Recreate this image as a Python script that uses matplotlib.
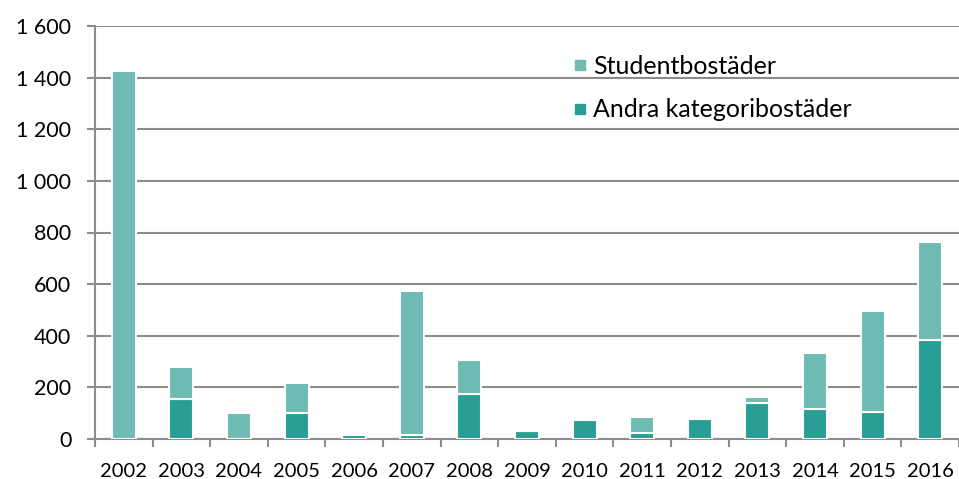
import matplotlib
matplotlib.use("Agg")
import matplotlib.pyplot as plt
from matplotlib.lines import Line2D
import numpy as np

plt.rcParams["font.family"] = ["Lato", "DejaVu Sans"]

years = ["2002", "2003", "2004", "2005", "2006", "2007", "2008", "2009",
         "2010", "2011", "2012", "2013", "2014", "2015", "2016"]
# dark segment (bottom) and total bar height
andra = [0, 155, 0, 100, 17, 15, 173, 32, 75, 23, 77, 139, 116, 106, 384]
total = [1425, 280, 100, 218, 17, 574, 305, 32, 75, 84, 77, 161, 335, 495, 763]
student = [t - a for t, a in zip(total, andra)]

yticks = [0, 200, 400, 600, 800, 1000, 1200, 1400, 1600]
ytick_labels = ["0", "200", "400", "600", "800", "1 000", "1 200", "1 400", "1 600"]

light = "#6FBBB4"
dark = "#289E94"
grey = "#8C8C8C"

fig = plt.figure(figsize=(9.59, 4.79), dpi=100)
ax = fig.add_axes([95 / 959, 40 / 479, 864 / 959, 413 / 479])

x = np.arange(len(years))
w = 0.42
ax.bar(x, andra, w, color=dark, edgecolor="white", linewidth=1.5, zorder=3)
ax.bar(x, student, w, bottom=andra, color=light, edgecolor="white",
       linewidth=1.5, zorder=3)

ax.set_xlim(-0.5, len(years) - 0.5)
ax.set_ylim(0, 1600)
ax.set_yticks(yticks)
ax.set_yticklabels(ytick_labels)
ax.yaxis.grid(True, color=grey, linewidth=1.5, zorder=0)
ax.set_axisbelow(True)

# category separators as major ticks, labels on minor ticks at centres
ax.set_xticks(np.arange(-0.5, len(years), 1.0))
ax.set_xticklabels([])
ax.set_xticks(x, minor=True)
ax.set_xticklabels(years, minor=True)
ax.tick_params(axis="x", which="major", length=6, width=1.5, color=grey)
ax.tick_params(axis="x", which="minor", length=0, pad=17, labelsize=14.5)
ax.tick_params(axis="y", length=6, width=1.5, color=grey, pad=11, labelsize=15.5)

for s in ["top", "right"]:
    ax.spines[s].set_visible(False)
for s in ["left", "bottom"]:
    ax.spines[s].set_color(grey)
    ax.spines[s].set_linewidth(1.5)

handles = [
    Line2D([], [], marker="s", linestyle="none", markersize=7.5, color=light),
    Line2D([], [], marker="s", linestyle="none", markersize=7.5, color=dark),
]
ax.legend(handles, ["Studentbostäder", "Andra kategoribostäder"],
          loc="upper left", bbox_to_anchor=(0.524, 0.985), frameon=False,
          fontsize=18, handletextpad=0.1, labelspacing=0.83, handlelength=0.8)

fig.savefig("out.png", dpi=100)
